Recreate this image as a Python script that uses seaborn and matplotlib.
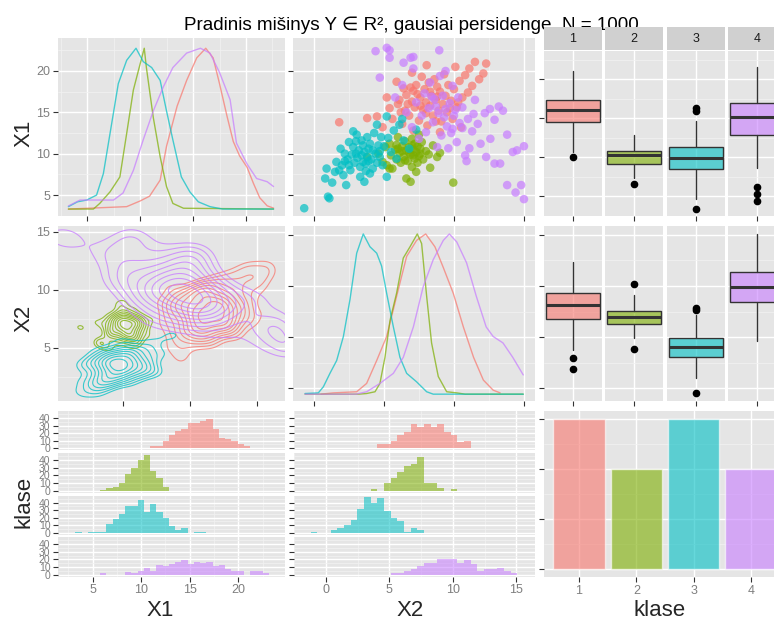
import matplotlib
matplotlib.use("Agg")
import matplotlib.pyplot as plt
import seaborn as sns
import pandas as pd
import numpy as np

sns.set_theme(style="darkgrid")
plt.rcParams['font.family'] = ['Liberation Sans', 'DejaVu Sans']

# ---------------- data ----------------
CLASSES = ["1", "2", "3", "4"]
COLORS = ["#F8766D", "#7CAE00", "#00BFC4", "#C77CFF"]
class_counts = [300, 200, 300, 200]

# representative scatter points (X2, X1) per class
pts1 = [(1.8,13.8),(3.8,14.3),(4.5,14.5),(4.9,13.2),(5.4,15.5),(5.6,14.2),(5.9,18.7),(6.0,16.0),(6.1,16.5),
        (6.3,13.6),(6.5,15.2),(6.6,17.1),(6.8,14.6),(6.9,18.0),(7.0,16.3),(7.1,12.8),(7.2,15.6),(7.3,18.3),
        (7.4,17.2),(7.5,14.0),(7.6,16.8),(7.7,19.3),(7.8,15.3),(7.9,17.8),(8.0,16.2),(8.05,20.7),(8.1,13.4),
        (8.2,18.6),(8.3,15.8),(8.4,17.0),(8.5,14.6),(8.6,19.0),(8.7,16.5),(8.8,18.1),(8.9,15.2),(9.0,17.5),
        (9.1,13.9),(9.2,16.0),(9.3,19.6),(9.4,17.0),(9.5,15.0),(9.6,18.3),(9.8,16.4),(9.9,14.2),(10.0,17.8),
        (10.1,20.5),(10.2,15.6),(10.4,18.8),(10.6,16.8),(10.8,19.5),(11.0,17.4),(11.1,20.3),(11.3,18.2),
        (11.5,21.1),(11.8,19.0),(12.1,19.7),(12.3,20.9),(10.5,13.2),(9.0,12.6),(7.0,19.8),
        (6.2,15.0),(6.7,16.0),(7.6,15.8),(8.3,17.5),(8.8,16.9),(9.7,15.5),(7.1,17.6),(8.0,14.9),(6.4,17.9),
        (10.3,16.2),(5.2,16.8),(8.7,13.9)]
pts2 = [(3.8,9.6),(4.6,10.0),(4.9,9.0),(5.1,10.8),(5.2,8.6),(5.4,11.2),(5.5,9.8),(5.6,8.2),(5.8,10.5),
        (5.9,11.05),(5.9,9.3),(6.0,12.0),(6.1,10.1),(6.2,8.9),(6.3,10.9),(6.4,9.6),(6.5,11.5),(6.6,7.0),
        (6.6,10.4),(6.7,9.1),(6.8,10.8),(6.9,6.6),(6.9,9.9),(7.0,11.8),(7.0,8.4),(7.1,10.5),(7.2,9.4),
        (7.2,11.2),(7.3,7.8),(7.3,10.2),(7.4,10.9),(7.4,8.9),(7.5,9.7),(7.5,12.3),(7.6,10.6),(7.7,11.4),
        (7.8,9.3),(8.0,10.3),(8.3,8.3),(8.5,11.0),(8.8,9.6),(9.0,10.1),(9.95,6.5),(5.4,8.2),
        (6.3,10.3),(6.8,10.1),(7.1,9.8),(6.5,9.2),(7.6,10.0),(6.0,10.6),(7.0,11.0),(8.2,9.9)]
pts3 = [(-0.7,3.4),(0.8,7.0),(1.0,4.8),(1.1,4.6),(0.9,8.2),(1.3,6.5),(1.5,7.8),(1.6,9.0),(1.8,8.0),
        (1.9,10.6),(2.0,8.6),(2.1,7.4),(2.2,10.0),(2.3,6.2),(2.4,9.3),(2.5,11.4),(2.6,8.0),(2.7,9.9),
        (2.8,10.8),(2.9,8.9),(3.0,11.5),(3.05,12.3),(3.1,9.5),(3.2,10.4),(3.3,8.4),(3.3,7.2),(3.4,9.8),
        (3.5,9.0),(3.5,11.0),(3.6,10.2),(3.7,8.8),(3.8,12.0),(3.8,9.6),(3.9,10.6),(4.0,7.6),(4.0,11.2),
        (4.1,9.3),(4.2,8.2),(4.3,12.5),(4.4,10.0),(4.5,13.5),(4.6,11.0),(4.7,9.6),(4.8,12.0),(4.9,8.6),
        (5.0,10.9),(5.2,14.5),(5.2,7.2),(5.3,11.9),(5.5,10.2),(5.7,12.8),(5.9,9.4),(6.1,13.5),(6.4,11.6),
        (6.8,10.6),(7.3,12.9),(6.3,14.2),(3.6,6.6),(2.8,12.7),(4.5,8.9),
        (3.0,10.0),(3.9,9.1),(4.2,10.4),(2.5,8.6),(3.4,11.6),(4.7,10.3),(2.2,9.1),(3.7,7.9)]
pts4 = [(4.4,22.4),(5.2,22.8),(5.4,22.5),(5.4,21.6),(4.7,19.2),(6.9,21.6),(6.4,21.0),(6.3,18.3),(7.1,20.3),
        (7.1,21.7),(8.95,22.5),(5.8,16.8),(6.6,15.0),(7.0,13.2),(7.3,16.2),(7.5,11.8),(7.7,14.6),(7.9,17.3),
        (8.0,12.6),(8.2,15.5),(8.3,18.6),(8.5,13.8),(8.6,16.6),(8.8,10.8),(8.9,14.9),(9.0,19.4),(9.1,12.2),
        (9.2,17.0),(9.4,15.4),(9.5,13.3),(9.6,10.65),(9.7,16.1),(9.8,12.5),(9.9,18.2),(10.0,14.6),(10.2,11.4),
        (10.3,16.8),(10.4,13.7),(10.6,15.6),(10.8,9.8),(10.9,9.1),(11.0,14.2),(11.1,10.65),(11.3,12.7),
        (11.5,16.5),(11.7,13.6),(11.9,11.2),(12.2,14.9),(12.57,15.4),(12.9,14.1),(13.2,15.7),(13.5,15.2),
        (12.3,9.6),(12.9,8.8),(13.3,8.8),(13.8,12.3),(14.5,10.4),(15.0,10.9),(14.2,10.2),(13.8,6.2),
        (14.4,5.3),(14.8,6.2),(15.0,4.5),(12.6,11.8),(9.4,20.0),
        (9.3,14.4),(10.1,15.3),(8.7,15.7),(10.6,13.1),(11.4,14.8),(9.9,13.0),(8.4,16.9)]
points = [pts1, pts2, pts3, pts4]

# scaled densities (0..1) of X1 per class
dx1 = [[3.24, 8.74, 10.0, 10.9, 11.9, 12.5, 13.5, 14.4, 15.35, 16.2, 16.9, 17.5, 18.2, 18.8, 19.4, 20.1, 20.7, 21.3, 22.0, 22.6],
       [3.24, 5.6, 6.2, 7.17, 8.1, 8.74, 9.37, 10.0, 10.4, 10.6, 11.25, 11.9, 12.5, 13.1, 14.1, 22.6],
       [3.24, 4.1, 4.97, 5.9, 6.54, 7.17, 7.95, 8.74, 9.62, 10.3, 11.1, 11.9, 12.5, 13.1, 13.9, 14.7, 15.5, 16.6, 17.8, 22.6],
       [3.24, 4.34, 5.9, 7.5, 8.4, 9.37, 10.3, 11.25, 12.2, 13.1, 14.4, 15.7, 16.6, 17.5, 18.5, 19.1, 20.1, 21.0, 22.0, 22.6]]
sx1 = [[0.0, 0.015, 0.05, 0.08, 0.18, 0.39, 0.64, 0.8, 0.94, 1.0, 0.94, 0.78, 0.58, 0.42, 0.33, 0.26, 0.16, 0.07, 0.02, 0.006],
       [0.0, 0.0, 0.035, 0.107, 0.2, 0.47, 0.74, 0.9, 1.0, 0.88, 0.57, 0.325, 0.14, 0.035, 0.005, 0.0],
       [0.015, 0.045, 0.056, 0.087, 0.22, 0.47, 0.78, 0.925, 1.0, 0.917, 0.88, 0.80, 0.61, 0.43, 0.20, 0.107, 0.045, 0.015, 0.0, 0.0],
       [0.019, 0.056, 0.056, 0.056, 0.1, 0.24, 0.43, 0.61, 0.76, 0.88, 0.97, 1.0, 0.97, 0.85, 0.68, 0.41, 0.28, 0.19, 0.17, 0.14]]
# scaled densities (0..1) of X2 per class
dx2 = [[0.5, 1.38, 3.05, 3.76, 4.48, 5.19, 5.9, 6.62, 7.33, 7.98, 8.64, 9.24, 9.95, 10.67, 11.4, 12.1, 12.8, 13.3],
       [-0.64, 3.2, 3.76, 4.36, 4.71, 5.07, 5.43, 5.9, 6.38, 6.86, 7.38, 7.69, 8.05, 8.4, 8.88, 9.48, 10.2, 10.8, 14.95],
       [-0.64, 0.31, 0.67, 1.14, 1.62, 2.1, 2.57, 3.05, 3.52, 4.0, 4.48, 4.83, 5.19, 5.67, 6.14, 6.62, 7.33, 8.05, 8.52, 14.95],
       [-0.64, 3.0, 3.76, 4.71, 5.67, 6.38, 7.1, 7.8, 8.52, 9.24, 9.67, 10.2, 10.9, 11.6, 12.3, 12.8, 13.5, 14.2, 14.95]]
sx2 = [[0.0, 0.008, 0.015, 0.067, 0.21, 0.36, 0.61, 0.86, 0.96, 1.0, 0.92, 0.79, 0.63, 0.42, 0.23, 0.088, 0.025, 0.008],
       [0.0, 0.0, 0.004, 0.015, 0.067, 0.23, 0.46, 0.63, 0.85, 0.92, 1.0, 0.94, 0.61, 0.32, 0.11, 0.015, 0.008, 0.0, 0.0],
       [0.004, 0.008, 0.046, 0.13, 0.21, 0.36, 0.59, 0.88, 1.0, 0.92, 0.88, 0.80, 0.63, 0.42, 0.23, 0.13, 0.077, 0.015, 0.0, 0.0],
       [0.0, 0.0, 0.015, 0.067, 0.13, 0.23, 0.42, 0.67, 0.84, 0.96, 1.0, 0.95, 0.82, 0.61, 0.42, 0.36, 0.32, 0.23, 0.12]]

# histogram counts (31 bins) per class
X1_BIN0, X1_BINW = 3.21, 0.643
X2_BIN0, X2_BINW = -1.18, 0.5245
hist_x1 = [[0,0,0,0,0,0,0,0,0,0,0,0,3,3,10,18,23,26,33,34,36,39,25,14,12,10,6,3,0,0,0],
           [0,0,0,0,1,3,5,10,22,30,40,47,26,16,5,0,0,0,0,0,0,0,0,0,0,0,0,0,0,0,0],
           [1,0,1,1,1,12,18,25,35,35,44,28,38,28,19,9,3,6,0,1,1,0,0,0,0,0,0,0,0,0,0],
           [0,0,0,0,2,0,0,0,4,2,5,9,5,13,12,14,17,19,14,17,15,17,12,13,8,5,5,0,5,5,2]]
hist_x2 = [[0,0,0,0,0,0,0,0,0,1,6,6,10,18,22,32,28,32,28,32,22,18,8,10,1,1,0,0,0,0,0],
           [0,0,0,0,0,0,0,0,0,2,0,10,16,24,32,35,44,10,10,3,0,2,0,0,0,0,0,0,0,0,0],
           [1,0,0,3,6,10,17,31,47,40,46,29,20,15,1,6,3,0,0,0,0,0,0,0,0,0,0,0,0,0,0],
           [0,0,0,0,0,0,0,0,0,0,0,0,2,2,5,7,11,15,15,20,20,20,15,19,14,5,7,7,9,5,2]]

# boxplot statistics per class: (whislo, q1, med, q3, whishi, fliers)
box_x1 = [(10.68, 14.5, 16.0, 17.3, 21.0, [10.04]),
          (7.27, 9.14, 10.26, 10.8, 12.8, [6.5]),
          (4.6, 8.46, 9.91, 11.32, 14.65, [16.24, 15.9, 3.3]),
          (8.55, 12.82, 15.09, 16.96, 21.6, [6.2, 5.26, 4.4])]
box_x2 = [(3.73, 6.76, 8.14, 9.35, 12.38, [2.9, 1.86]),
          (4.87, 6.27, 6.93, 7.58, 9.12, [10.16, 3.79]),
          (1.01, 3.07, 4.05, 4.87, 7.16, [7.81, 7.65, -0.52]),
          (4.6, 8.46, 9.93, 11.34, 15.1, [])]

TITLE = "Pradinis mišinys Y ∈ R², gausiai persidenge, N = 1000"

# ---------------- figure ----------------
W, H = 774, 622
fig = plt.figure(figsize=(W / 100, H / 100), dpi=100)
PANEL_BG = "#E5E5E5"
TICK_C = "#333333"
LAB_C = "#7F7F7F"


def px_axes(x0, y0, x1, y1, z=0):
    ax = fig.add_axes([x0 / W, 1 - y1 / H, (x1 - x0) / W, (y1 - y0) / H])
    ax.set_zorder(z)
    return ax


def style(ax, xlim, ylim, xmaj, ymaj, xmin=(), ymin=(), xlab=False, ylab=False,
          xticks=True, yticks=True, ylabsize=9):
    ax.set_facecolor(PANEL_BG)
    ax.set_xlim(xlim)
    ax.set_ylim(ylim)
    ax.set_xticks(xmaj)
    ax.set_yticks(ymaj)
    ax.set_xticks(list(xmin), minor=True)
    ax.set_yticks(list(ymin), minor=True)
    ax.grid(False)
    ax.grid(True, which='major', color='white', linewidth=1.0)
    ax.grid(True, which='minor', color='#F2F2F2', linewidth=0.5)
    ax.set_axisbelow(True)
    for s in ax.spines.values():
        s.set_visible(False)
    ax.tick_params(which='major', bottom=xticks, left=yticks, length=3.5, width=0.8,
                   color=TICK_C, labelsize=9, labelcolor=LAB_C, pad=2)
    ax.tick_params(axis='y', which='major', labelsize=ylabsize)
    ax.tick_params(which='minor', bottom=False, left=False, length=0)
    if not xlab:
        ax.set_xticklabels([])
    if not ylab:
        ax.set_yticklabels([])
    ax.set_xlabel('')
    ax.set_ylabel('')


rows = []
for k, pts in enumerate(points):
    for (x2, x1) in pts:
        rows.append({"klase": CLASSES[k], "X1": x1, "X2": x2})
df = pd.DataFrame(rows)
pal = dict(zip(CLASSES, COLORS))

# --- row 1, col 1: X1 densities
ax = px_axes(58, 38, 285, 216)
for k in range(4):
    ys = [3.3 + s * (22.75 - 3.3) for s in sx1[k]]
    sns.lineplot(x=dx1[k], y=ys, color=COLORS[k], lw=1.0, alpha=0.7, estimator=None, sort=False, ax=ax)
style(ax, (2.26, 23.68), (2.46, 23.99), [5, 10, 15, 20], [5, 10, 15, 20],
      [2.5, 7.5, 12.5, 17.5, 22.5], [2.5, 7.5, 12.5, 17.5, 22.5], ylab=True)

# --- row 1, col 2: scatter X1 vs X2
ax = px_axes(293, 38, 535, 216)
sns.scatterplot(data=df, x="X2", y="X1", hue="klase", palette=pal, hue_order=CLASSES,
                s=38, alpha=0.7, linewidth=0, legend=False, ax=ax)
style(ax, (-1.5, 15.79), (2.46, 23.99), [0, 5, 10, 15], [5, 10, 15, 20],
      [2.5, 7.5, 12.5], [2.5, 7.5, 12.5, 17.5, 22.5])

# --- box facets
facets_x = [(544, 602), (605, 663), (667, 725), (728, 786)]
for k, (fx0, fx1) in enumerate(facets_x):
    for (ry0, ry1, stats_list, ylim, ymaj, ymin) in [
            (51, 216, box_x1, (2.44, 23.59), [5, 10, 15, 20], [7.5, 12.5, 17.5, 22.5]),
            (226, 401, box_x2, (-1.27, 15.88), [0, 5, 10, 15], [2.5, 7.5, 12.5])]:
        ax = px_axes(fx0, ry0, fx1, ry1)
        lo, q1, med, q3, hi, fl = stats_list[k]
        st = dict(whislo=lo, q1=q1, med=med, q3=q3, whishi=hi, fliers=fl, label=CLASSES[k])
        ax.bxp([st], positions=[0], widths=0.93, patch_artist=True, showcaps=False,
               boxprops=dict(facecolor=matplotlib.colors.to_rgba(COLORS[k], 0.6),
                             edgecolor='#333333', linewidth=1.0),
               medianprops=dict(color='#333333', linewidth=2.2),
               whiskerprops=dict(color='#333333', linewidth=1.0),
               flierprops=dict(marker='o', markerfacecolor='black', markeredgecolor='black',
                               markersize=4.5))
        style(ax, (-0.5, 0.5), ylim, [0], ymaj, [], ymin, yticks=(k == 0))
    # strip
    sax = px_axes(fx0, 27, fx1, 50, z=5)
    sax.set_facecolor('#D0D0D0')
    sax.set_xticks([]); sax.set_yticks([])
    sax.grid(False)
    for s in sax.spines.values():
        s.set_visible(False)
    sax.text(0.5, 0.5, CLASSES[k], ha='center', va='center', fontsize=9, color='#1A1A1A',
             transform=sax.transAxes)

# --- row 2, col 1: 2D density contours (axis-aligned Gaussian KDE, as MASS::kde2d)
ax = px_axes(58, 226, 285, 401)
gx = np.linspace(4.0, 23.5, 200)
gy = np.linspace(-0.5, 16.5, 200)
GX, GY = np.meshgrid(gx, gy)


def nrd_sd(v, n):
    q75, q25 = np.percentile(v, [75, 25])
    return 1.06 * min(v.std(ddof=1), (q75 - q25) / 1.34) * n ** (-0.2)


for k, pts in enumerate(points):
    v1 = np.array([p[1] for p in pts])
    v2 = np.array([p[0] for p in pts])
    hx, hy = nrd_sd(v1, class_counts[k]), nrd_sd(v2, class_counts[k])
    Z = np.exp(-0.5 * ((GX[..., None] - v1) / hx) ** 2
               - 0.5 * ((GY[..., None] - v2) / hy) ** 2).sum(-1)
    lv = Z.max() * np.linspace(0.24, 0.93, 9)
    ax.contour(GX, GY, Z, levels=lv, colors=[COLORS[k]], linewidths=0.8, alpha=0.75)
style(ax, (5.15, 22.1), (0.43, 15.5), [10, 15, 20], [5, 10, 15],
      [7.5, 12.5, 17.5], [2.5, 7.5, 12.5], ylab=True)

# --- row 2, col 2: X2 densities
ax = px_axes(293, 226, 535, 401)
for k in range(4):
    ys = [-0.6 + s * (15.1 + 0.6) for s in sx2[k]]
    sns.lineplot(x=dx2[k], y=ys, color=COLORS[k], lw=1.0, alpha=0.7, estimator=None, sort=False, ax=ax)
style(ax, (-1.5, 15.79), (-1.27, 15.88), [0, 5, 10, 15], [0, 5, 10, 15],
      [2.5, 7.5, 12.5], [2.5, 7.5, 12.5])

# --- row 3: histogram facets
facets_y = [(411, 450), (453, 492.5), (495.5, 534.5), (537, 576.5)]
for col, (cx0, cx1, hists, b0, bw, xlim, xmaj, xmin) in enumerate([
        (58, 285, hist_x1, X1_BIN0, X1_BINW, (1.43, 24.81), [5, 10, 15, 20], [2.5, 7.5, 12.5, 17.5, 22.5]),
        (294, 535, hist_x2, X2_BIN0, X2_BINW, (-2.49, 16.47), [0, 5, 10, 15], [-2.5, 2.5, 7.5, 12.5])]):
    for k, (fy0, fy1) in enumerate(facets_y):
        ax = px_axes(cx0, fy0, cx1, fy1)
        h = hists[k]
        edges = [b0 + bw * i for i in range(len(h) + 1)]
        hdf = pd.DataFrame({"c": [e + bw / 2 for e in edges[:-1]], "w": h})
        sns.histplot(data=hdf, x="c", weights="w", bins=edges, element='step', fill=True,
                     color=COLORS[k], alpha=0.55, linewidth=0, ax=ax)
        style(ax, xlim, (-2.3, 49.3), xmaj, [0, 10, 20, 30, 40], xmin, [5, 15, 25, 35, 45],
              xlab=(k == 3), ylab=(col == 0), xticks=(k == 3), ylabsize=7.5)

# --- row 3, col 3: bar counts
ax = px_axes(544, 411, 786, 577)
sns.barplot(x=CLASSES, y=class_counts, hue=CLASSES, palette=pal, alpha=0.6, width=0.9,
            saturation=1, legend=False, ax=ax)
style(ax, (-0.61, 3.61), (-15, 315), [0, 1, 2, 3], [0, 100, 200, 300],
      [], [50, 150, 250], xlab=True)
ax.set_xticklabels(CLASSES)

# --- labels
fig.text(411 / W, 1 - 30 / H, TITLE, ha='center', va='baseline', fontsize=13.6, color='black', zorder=1)
fig.text(24 / W, 1 - 133 / H, "X1", ha='center', va='center', rotation=90, fontsize=16)
fig.text(24 / W, 1 - 318 / H, "X2", ha='center', va='center', rotation=90, fontsize=16)
fig.text(24 / W, 1 - 502 / H, "klase", ha='center', va='center', rotation=90, fontsize=16)
fig.text(160 / W, 1 - 610 / H, "X1", ha='center', va='center', fontsize=16)
fig.text(410 / W, 1 - 610 / H, "X2", ha='center', va='center', fontsize=16)
fig.text(660 / W, 1 - 610 / H, "klase", ha='center', va='center', fontsize=16)

fig.savefig("out.png", dpi=100)
